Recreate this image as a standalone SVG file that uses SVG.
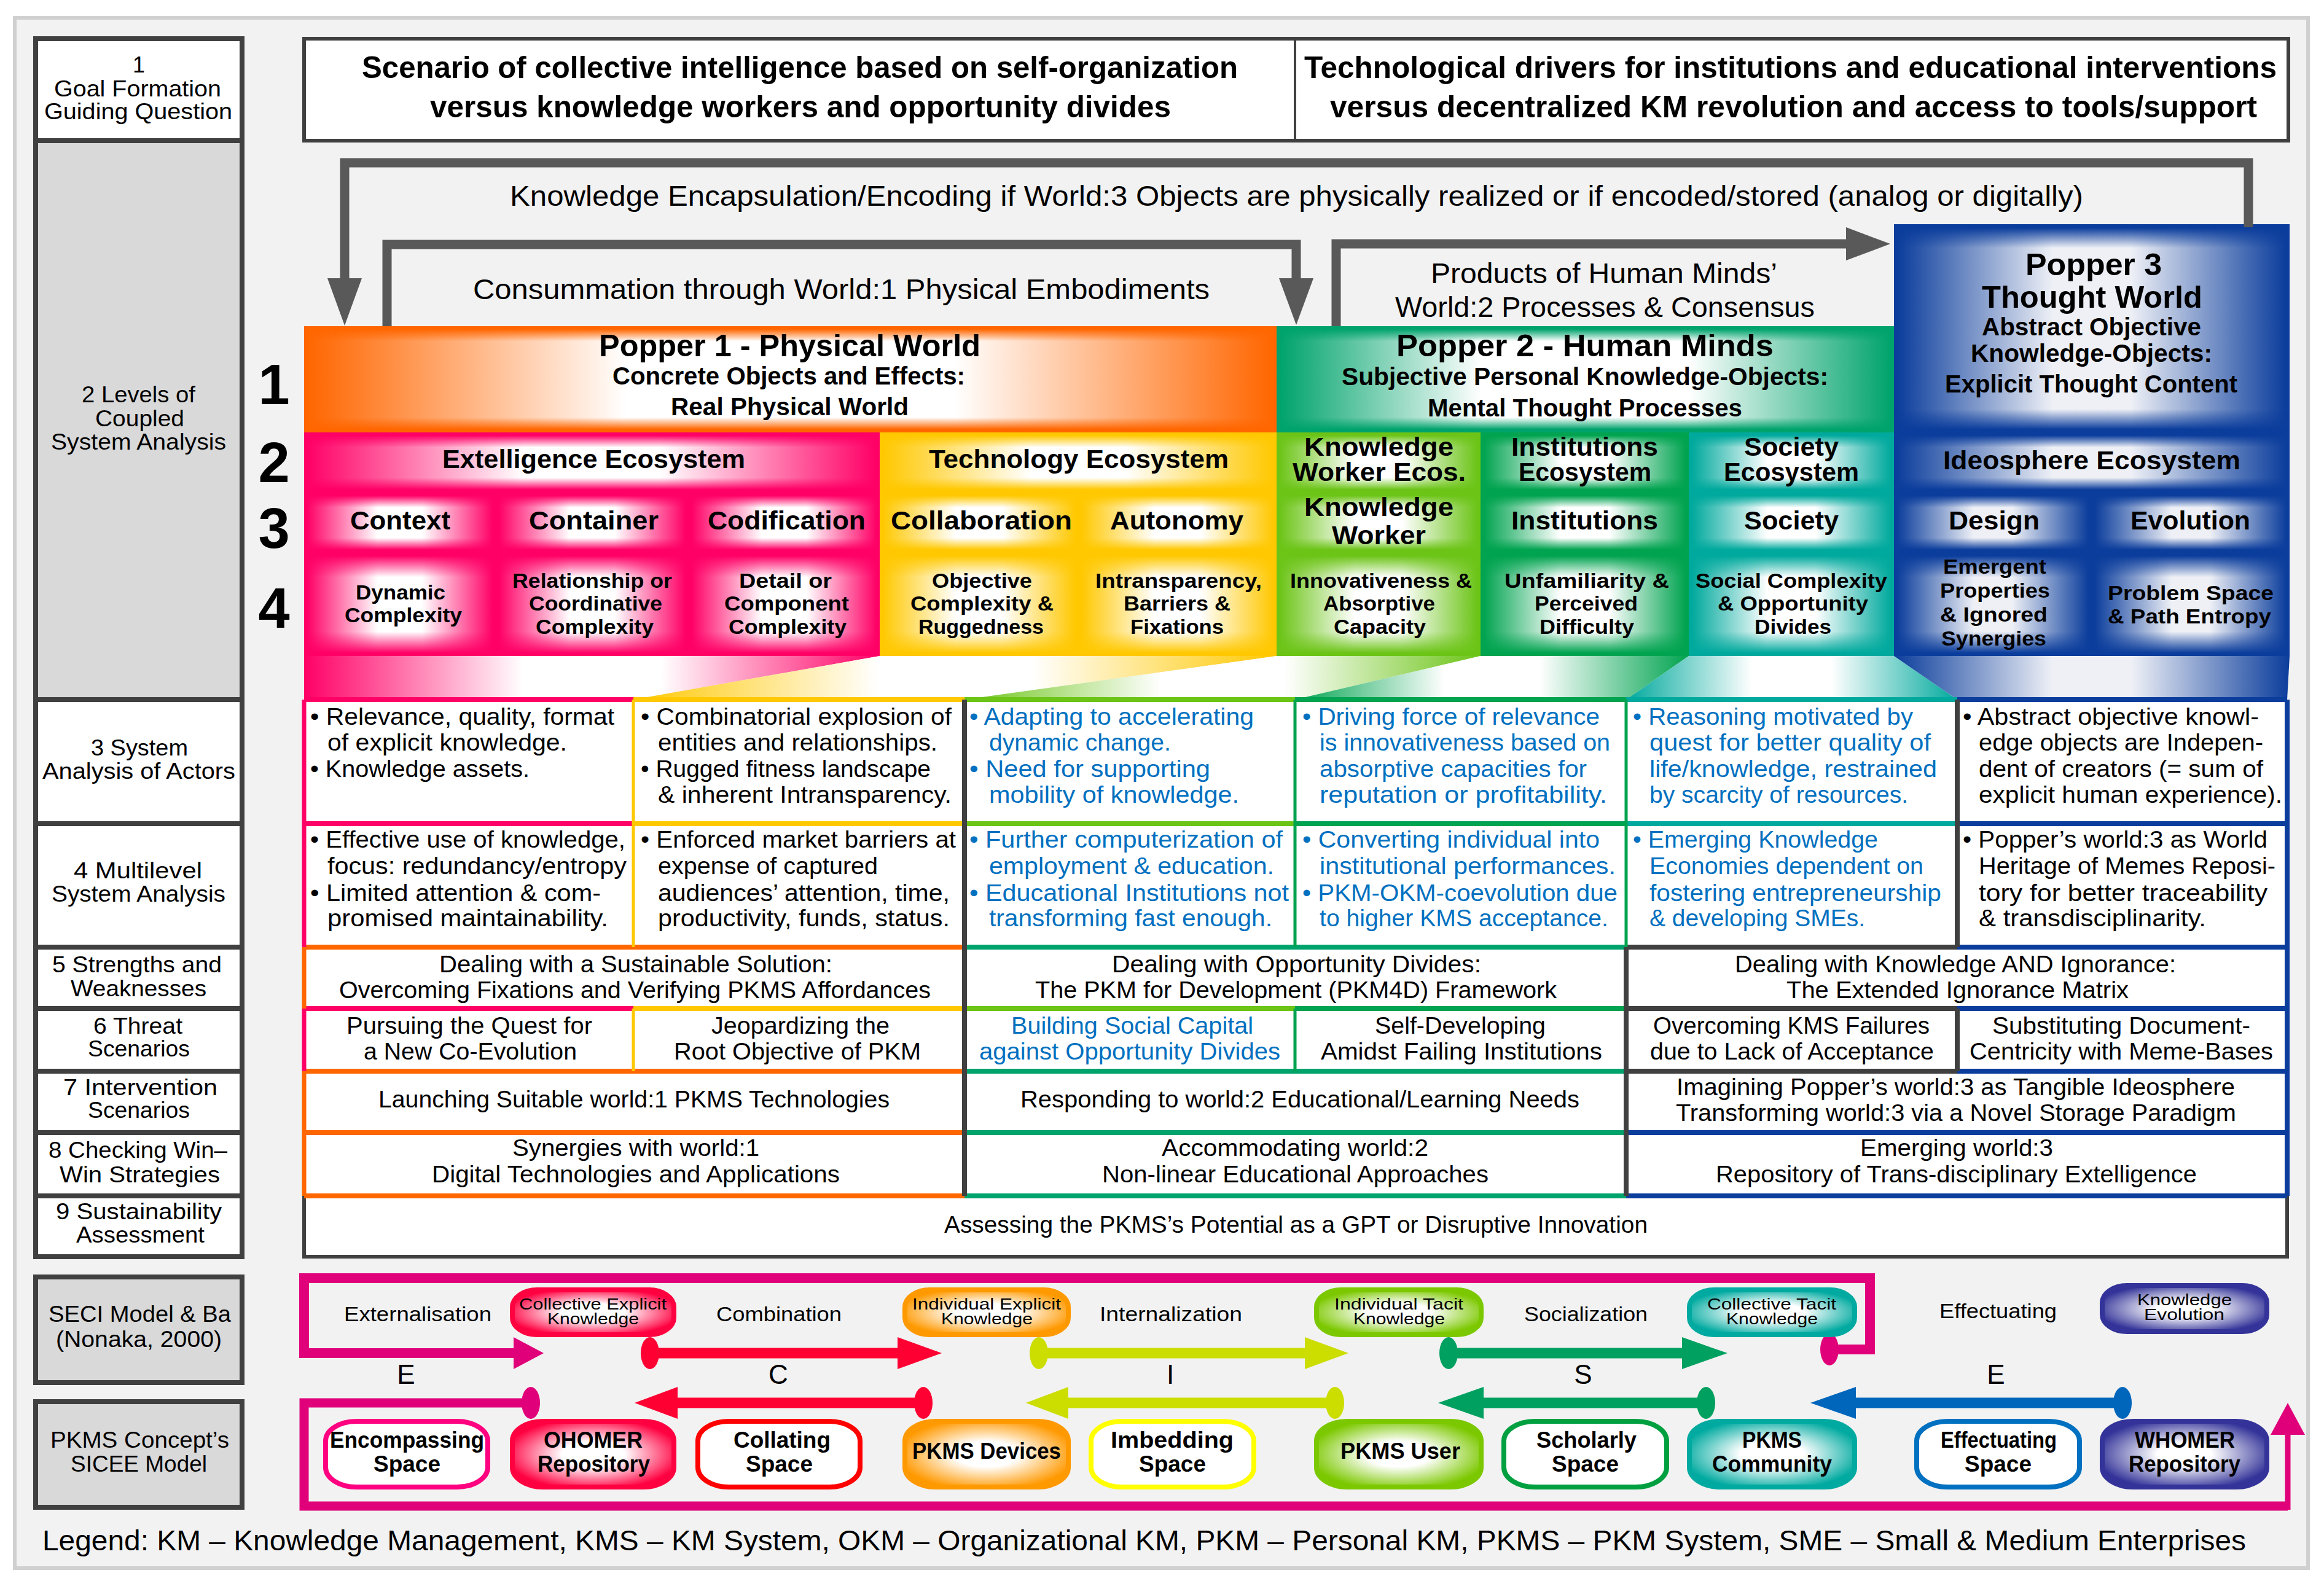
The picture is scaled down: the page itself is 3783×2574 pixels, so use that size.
<svg xmlns="http://www.w3.org/2000/svg" width="3783" height="2574" viewBox="0 0 3783 2574">
<defs>
<style>
text{font-family:"Liberation Sans",Arial,sans-serif;fill:#000}
.hd{font-size:50px;font-weight:bold}
.ar{font-size:46px}
.p1{font-size:50px;font-weight:bold}
.p2{font-size:40px;font-weight:bold}
.r2{font-size:42px;font-weight:bold}
.r4{font-size:34px;font-weight:bold}
.num{font-size:92px;font-weight:bold;text-anchor:middle}
.lc{font-size:36px}
.tb{font-size:38px}
.bl{fill:#0070c0}
.sl{font-size:34px}
.pt{font-size:26px}
.pb{font-size:36px;font-weight:bold}
.lt{font-size:44px;text-anchor:middle}
.lg{font-size:46px}
.garrow{fill:none;stroke:#595959;stroke-width:15}
.lcell{stroke:#404040;stroke-width:8;fill:#fff}
.gcell{stroke:#404040;stroke-width:8;fill:#d9d9d9}
.bd{stroke-width:8;fill:none}
.bt{stroke-width:5;fill:none}
</style>
<linearGradient id="h-or" x1="0" x2="1" y1="0" y2="0"><stop offset="0" stop-color="#ff6600"/><stop offset="0.33" stop-color="#fff"/><stop offset="0.67" stop-color="#fff"/><stop offset="1" stop-color="#ff6600"/></linearGradient>
<linearGradient id="vp-or" x1="0" x2="0" y1="0" y2="1"><stop offset="0" stop-color="#ff6600"/><stop offset="0.12" stop-color="#ff6600" stop-opacity="0"/><stop offset="0.88" stop-color="#ff6600" stop-opacity="0"/><stop offset="1" stop-color="#ff6600"/></linearGradient>
<linearGradient id="h-p2" x1="0" x2="1" y1="0" y2="0"><stop offset="0" stop-color="#00a36c"/><stop offset="0.33" stop-color="#fff"/><stop offset="0.67" stop-color="#fff"/><stop offset="1" stop-color="#00a36c"/></linearGradient>
<linearGradient id="vp-p2" x1="0" x2="0" y1="0" y2="1"><stop offset="0" stop-color="#00a36c"/><stop offset="0.12" stop-color="#00a36c" stop-opacity="0"/><stop offset="0.88" stop-color="#00a36c" stop-opacity="0"/><stop offset="1" stop-color="#00a36c"/></linearGradient>
<linearGradient id="h-bl" x1="0" x2="1" y1="0" y2="0"><stop offset="0" stop-color="#0b3d9c"/><stop offset="0.4" stop-color="#eef0f6"/><stop offset="0.6" stop-color="#eef0f6"/><stop offset="1" stop-color="#0b3d9c"/></linearGradient>
<linearGradient id="vp-bl" x1="0" x2="0" y1="0" y2="1"><stop offset="0" stop-color="#0b3d9c"/><stop offset="0.1" stop-color="#0b3d9c" stop-opacity="0"/><stop offset="0.9" stop-color="#0b3d9c" stop-opacity="0"/><stop offset="1" stop-color="#0b3d9c"/></linearGradient>
<linearGradient id="v-bl" x1="0" x2="0" y1="0" y2="1"><stop offset="0" stop-color="#0b3d9c"/><stop offset="0.22" stop-color="#0b3d9c" stop-opacity="0"/><stop offset="0.78" stop-color="#0b3d9c" stop-opacity="0"/><stop offset="1" stop-color="#0b3d9c"/></linearGradient>
<linearGradient id="h-pk" x1="0" x2="1" y1="0" y2="0"><stop offset="0" stop-color="#ff0066"/><stop offset="0.38" stop-color="#fff"/><stop offset="0.62" stop-color="#fff"/><stop offset="1" stop-color="#ff0066"/></linearGradient>
<linearGradient id="v-pk" x1="0" x2="0" y1="0" y2="1"><stop offset="0" stop-color="#ff0066"/><stop offset="0.22" stop-color="#ff0066" stop-opacity="0"/><stop offset="0.78" stop-color="#ff0066" stop-opacity="0"/><stop offset="1" stop-color="#ff0066"/></linearGradient>
<linearGradient id="h-ye" x1="0" x2="1" y1="0" y2="0"><stop offset="0" stop-color="#ffc800"/><stop offset="0.38" stop-color="#fff"/><stop offset="0.62" stop-color="#fff"/><stop offset="1" stop-color="#ffc800"/></linearGradient>
<linearGradient id="v-ye" x1="0" x2="0" y1="0" y2="1"><stop offset="0" stop-color="#ffc800"/><stop offset="0.22" stop-color="#ffc800" stop-opacity="0"/><stop offset="0.78" stop-color="#ffc800" stop-opacity="0"/><stop offset="1" stop-color="#ffc800"/></linearGradient>
<linearGradient id="h-yg" x1="0" x2="1" y1="0" y2="0"><stop offset="0" stop-color="#6cc417"/><stop offset="0.38" stop-color="#fff"/><stop offset="0.62" stop-color="#fff"/><stop offset="1" stop-color="#6cc417"/></linearGradient>
<linearGradient id="v-yg" x1="0" x2="0" y1="0" y2="1"><stop offset="0" stop-color="#6cc417"/><stop offset="0.22" stop-color="#6cc417" stop-opacity="0"/><stop offset="0.78" stop-color="#6cc417" stop-opacity="0"/><stop offset="1" stop-color="#6cc417"/></linearGradient>
<linearGradient id="h-gn" x1="0" x2="1" y1="0" y2="0"><stop offset="0" stop-color="#00a34f"/><stop offset="0.38" stop-color="#fff"/><stop offset="0.62" stop-color="#fff"/><stop offset="1" stop-color="#00a34f"/></linearGradient>
<linearGradient id="v-gn" x1="0" x2="0" y1="0" y2="1"><stop offset="0" stop-color="#00a34f"/><stop offset="0.22" stop-color="#00a34f" stop-opacity="0"/><stop offset="0.78" stop-color="#00a34f" stop-opacity="0"/><stop offset="1" stop-color="#00a34f"/></linearGradient>
<linearGradient id="h-tl" x1="0" x2="1" y1="0" y2="0"><stop offset="0" stop-color="#00a99d"/><stop offset="0.38" stop-color="#fff"/><stop offset="0.62" stop-color="#fff"/><stop offset="1" stop-color="#00a99d"/></linearGradient>
<linearGradient id="v-tl" x1="0" x2="0" y1="0" y2="1"><stop offset="0" stop-color="#00a99d"/><stop offset="0.22" stop-color="#00a99d" stop-opacity="0"/><stop offset="0.78" stop-color="#00a99d" stop-opacity="0"/><stop offset="1" stop-color="#00a99d"/></linearGradient>
<radialGradient id="rg-rd" cx="0.5" cy="0.5" r="0.55"><stop offset="0" stop-color="#fff"/><stop offset="0.35" stop-color="#fff"/><stop offset="1" stop-color="#ff0040"/></radialGradient>
<radialGradient id="rg-or" cx="0.5" cy="0.5" r="0.55"><stop offset="0" stop-color="#fff"/><stop offset="0.35" stop-color="#fff"/><stop offset="1" stop-color="#ff9900"/></radialGradient>
<radialGradient id="rg-yg" cx="0.5" cy="0.5" r="0.55"><stop offset="0" stop-color="#fff"/><stop offset="0.35" stop-color="#fff"/><stop offset="1" stop-color="#7cc800"/></radialGradient>
<radialGradient id="rg-tl" cx="0.5" cy="0.5" r="0.55"><stop offset="0" stop-color="#fff"/><stop offset="0.35" stop-color="#fff"/><stop offset="1" stop-color="#00aaa0"/></radialGradient>
<radialGradient id="rg-in" cx="0.5" cy="0.5" r="0.55"><stop offset="0" stop-color="#fff"/><stop offset="0.3" stop-color="#fff"/><stop offset="1" stop-color="#333399"/></radialGradient>
</defs>

<rect x="0" y="0" width="3783" height="2574" fill="#fff"/>
<rect x="24" y="29" width="3733" height="2524" fill="#f2f2f2" stroke="#d0d0d0" stroke-width="6"/>

<!-- Left column -->
<g id="left-column">
<rect class="lcell" x="58" y="63" width="336" height="166"/>
<text class="lc" x="216" y="118" textLength="20" lengthAdjust="spacingAndGlyphs">1</text>
<text class="lc" x="88" y="157" textLength="272" lengthAdjust="spacingAndGlyphs">Goal Formation</text>
<text class="lc" x="72" y="194" textLength="306" lengthAdjust="spacingAndGlyphs">Guiding Question</text>
<rect class="gcell" x="58" y="229" width="336" height="910"/>
<text class="lc" x="133" y="655" textLength="185" lengthAdjust="spacingAndGlyphs">2 Levels of</text>
<text class="lc" x="155" y="694" textLength="145" lengthAdjust="spacingAndGlyphs">Coupled</text>
<text class="lc" x="83" y="732" textLength="285" lengthAdjust="spacingAndGlyphs">System Analysis</text>
<rect class="lcell" x="58" y="1139" width="336" height="202"/>
<text class="lc" x="148" y="1230" textLength="158" lengthAdjust="spacingAndGlyphs">3 System</text>
<text class="lc" x="69" y="1268" textLength="314" lengthAdjust="spacingAndGlyphs">Analysis of Actors</text>
<rect class="lcell" x="58" y="1341" width="336" height="201"/>
<text class="lc" x="120" y="1430" textLength="209" lengthAdjust="spacingAndGlyphs">4 Multilevel</text>
<text class="lc" x="84" y="1468" textLength="283" lengthAdjust="spacingAndGlyphs">System Analysis</text>
<rect class="lcell" x="58" y="1542" width="336" height="100"/>
<text class="lc" x="85" y="1583" textLength="276" lengthAdjust="spacingAndGlyphs">5 Strengths and</text>
<text class="lc" x="115" y="1622" textLength="221" lengthAdjust="spacingAndGlyphs">Weaknesses</text>
<rect class="lcell" x="58" y="1642" width="336" height="102"/>
<text class="lc" x="152" y="1683" textLength="145" lengthAdjust="spacingAndGlyphs">6 Threat</text>
<text class="lc" x="143" y="1720" textLength="166" lengthAdjust="spacingAndGlyphs">Scenarios</text>
<rect class="lcell" x="58" y="1744" width="336" height="100"/>
<text class="lc" x="103" y="1783" textLength="251" lengthAdjust="spacingAndGlyphs">7 Intervention</text>
<text class="lc" x="143" y="1820" textLength="166" lengthAdjust="spacingAndGlyphs">Scenarios</text>
<rect class="lcell" x="58" y="1844" width="336" height="103"/>
<text class="lc" x="79" y="1885" textLength="291" lengthAdjust="spacingAndGlyphs">8 Checking Win–</text>
<text class="lc" x="97" y="1925" textLength="261" lengthAdjust="spacingAndGlyphs">Win Strategies</text>
<rect class="lcell" x="58" y="1947" width="336" height="99"/>
<text class="lc" x="91" y="1985" textLength="270" lengthAdjust="spacingAndGlyphs">9 Sustainability</text>
<text class="lc" x="124" y="2023" textLength="209" lengthAdjust="spacingAndGlyphs">Assessment</text>
</g>
<g id="seci-label">
<rect class="gcell" x="58" y="2079" width="336" height="172"/>
<text class="lc" x="79" y="2152" textLength="297" lengthAdjust="spacingAndGlyphs">SECI Model &amp; Ba</text>
<text class="lc" x="91" y="2193" textLength="270" lengthAdjust="spacingAndGlyphs">(Nonaka, 2000)</text>
</g>
<g id="sicee-label">
<rect class="gcell" x="58" y="2282" width="336" height="172"/>
<text class="lc" x="82" y="2357" textLength="291" lengthAdjust="spacingAndGlyphs">PKMS Concept’s</text>
<text class="lc" x="115" y="2396" textLength="222" lengthAdjust="spacingAndGlyphs">SICEE Model</text>
</g>

<!-- Header -->
<g id="header">
<rect x="495" y="63" width="3230" height="166" fill="#fff" stroke="#404040" stroke-width="6"/>
<line x1="2108" y1="63" x2="2108" y2="229" stroke="#404040" stroke-width="4"/>
<text class="hd" x="589" y="127" textLength="1426" lengthAdjust="spacingAndGlyphs">Scenario of collective intelligence based on self-organization</text>
<text class="hd" x="700" y="191" textLength="1206" lengthAdjust="spacingAndGlyphs">versus knowledge workers and opportunity divides</text>
<text class="hd" x="2123" y="127" textLength="1583" lengthAdjust="spacingAndGlyphs">Technological drivers for institutions and educational interventions</text>
<text class="hd" x="2165" y="191" textLength="1509" lengthAdjust="spacingAndGlyphs">versus decentralized KM revolution and access to tools/support</text>
</g>

<!-- Popper blocks -->
<g id="popper1">
<rect x="495" y="531" width="1583" height="173" fill="#ff6600"/>
<rect x="500" y="536" width="1573" height="163" fill="url(#h-or)"/>
<rect x="500" y="536" width="1573" height="163" fill="url(#vp-or)"/>
<text class="p1" x="975" y="580" textLength="621" lengthAdjust="spacingAndGlyphs">Popper 1 - Physical World</text>
<text class="p2" x="997" y="626" textLength="574" lengthAdjust="spacingAndGlyphs">Concrete Objects and Effects:</text>
<text class="p2" x="1092" y="676" textLength="387" lengthAdjust="spacingAndGlyphs">Real Physical World</text>
</g>
<g id="popper2">
<rect x="2078" y="531" width="1005" height="173" fill="#00a36c"/>
<rect x="2083" y="536" width="995" height="163" fill="url(#h-p2)"/>
<rect x="2083" y="536" width="995" height="163" fill="url(#vp-p2)"/>
<text class="p1" x="2273" y="580" textLength="614" lengthAdjust="spacingAndGlyphs">Popper 2 - Human Minds</text>
<text class="p2" x="2184" y="627" textLength="792" lengthAdjust="spacingAndGlyphs">Subjective Personal Knowledge-Objects:</text>
<text class="p2" x="2324" y="678" textLength="512" lengthAdjust="spacingAndGlyphs">Mental Thought Processes</text>
</g>
<g id="popper3">
<rect x="3083" y="365" width="644" height="703" fill="#0b3d9c"/>
<rect x="3089" y="371" width="632" height="328" fill="url(#h-bl)"/>
<rect x="3089" y="371" width="632" height="328" fill="url(#vp-bl)"/>
<text class="p1" x="3297" y="448" textLength="222" lengthAdjust="spacingAndGlyphs">Popper 3</text>
<text class="p1" x="3226" y="501" textLength="359" lengthAdjust="spacingAndGlyphs">Thought World</text>
<text class="p2" x="3226" y="546" textLength="357" lengthAdjust="spacingAndGlyphs">Abstract Objective</text>
<text class="p2" x="3208" y="589" textLength="393" lengthAdjust="spacingAndGlyphs">Knowledge-Objects:</text>
<text class="p2" x="3166" y="639" textLength="476" lengthAdjust="spacingAndGlyphs">Explicit Thought Content</text>
</g>

<!-- Level rows 2-4 -->
<g id="extelligence">
<rect x="495" y="704" width="937" height="364" fill="#ff0066"/>
<rect x="500" y="709" width="927" height="88" fill="url(#h-pk)"/><rect x="500" y="709" width="927" height="88" fill="url(#v-pk)"/>
<rect x="500" y="807" width="302" height="88" fill="url(#h-pk)"/><rect x="500" y="807" width="302" height="88" fill="url(#v-pk)"/>
<rect x="812" y="807" width="304" height="88" fill="url(#h-pk)"/><rect x="812" y="807" width="304" height="88" fill="url(#v-pk)"/>
<rect x="1126" y="807" width="301" height="88" fill="url(#h-pk)"/><rect x="1126" y="807" width="301" height="88" fill="url(#v-pk)"/>
<rect x="500" y="905" width="302" height="158" fill="url(#h-pk)"/><rect x="500" y="905" width="302" height="158" fill="url(#v-pk)"/>
<rect x="812" y="905" width="304" height="158" fill="url(#h-pk)"/><rect x="812" y="905" width="304" height="158" fill="url(#v-pk)"/>
<rect x="1126" y="905" width="301" height="158" fill="url(#h-pk)"/><rect x="1126" y="905" width="301" height="158" fill="url(#v-pk)"/>
<text class="r2" x="720" y="762" textLength="493" lengthAdjust="spacingAndGlyphs">Extelligence Ecosystem</text>
<text class="r2" x="570" y="862" textLength="163" lengthAdjust="spacingAndGlyphs">Context</text>
<text class="r2" x="861" y="862" textLength="211" lengthAdjust="spacingAndGlyphs">Container</text>
<text class="r2" x="1152" y="862" textLength="257" lengthAdjust="spacingAndGlyphs">Codification</text>
<text class="r4" x="579" y="976" textLength="146" lengthAdjust="spacingAndGlyphs">Dynamic</text>
<text class="r4" x="561" y="1013" textLength="191" lengthAdjust="spacingAndGlyphs">Complexity</text>
<text class="r4" x="834" y="957" textLength="260" lengthAdjust="spacingAndGlyphs">Relationship or</text>
<text class="r4" x="861" y="994" textLength="217" lengthAdjust="spacingAndGlyphs">Coordinative</text>
<text class="r4" x="872" y="1032" textLength="192" lengthAdjust="spacingAndGlyphs">Complexity</text>
<text class="r4" x="1203" y="957" textLength="151" lengthAdjust="spacingAndGlyphs">Detail or</text>
<text class="r4" x="1179" y="994" textLength="203" lengthAdjust="spacingAndGlyphs">Component</text>
<text class="r4" x="1186" y="1032" textLength="192" lengthAdjust="spacingAndGlyphs">Complexity</text>
</g>
<g id="technology">
<rect x="1432" y="704" width="646" height="364" fill="#ffc800"/>
<rect x="1437" y="709" width="636" height="88" fill="url(#h-ye)"/><rect x="1437" y="709" width="636" height="88" fill="url(#v-ye)"/>
<rect x="1437" y="807" width="314" height="88" fill="url(#h-ye)"/><rect x="1437" y="807" width="314" height="88" fill="url(#v-ye)"/>
<rect x="1761" y="807" width="312" height="88" fill="url(#h-ye)"/><rect x="1761" y="807" width="312" height="88" fill="url(#v-ye)"/>
<rect x="1437" y="905" width="314" height="158" fill="url(#h-ye)"/><rect x="1437" y="905" width="314" height="158" fill="url(#v-ye)"/>
<rect x="1761" y="905" width="312" height="158" fill="url(#h-ye)"/><rect x="1761" y="905" width="312" height="158" fill="url(#v-ye)"/>
<text class="r2" x="1512" y="762" textLength="488" lengthAdjust="spacingAndGlyphs">Technology Ecosystem</text>
<text class="r2" x="1450" y="862" textLength="295" lengthAdjust="spacingAndGlyphs">Collaboration</text>
<text class="r2" x="1807" y="862" textLength="217" lengthAdjust="spacingAndGlyphs">Autonomy</text>
<text class="r4" x="1517" y="957" textLength="163" lengthAdjust="spacingAndGlyphs">Objective</text>
<text class="r4" x="1482" y="994" textLength="233" lengthAdjust="spacingAndGlyphs">Complexity &amp;</text>
<text class="r4" x="1495" y="1032" textLength="204" lengthAdjust="spacingAndGlyphs">Ruggedness</text>
<text class="r4" x="1783" y="957" textLength="271" lengthAdjust="spacingAndGlyphs">Intransparency,</text>
<text class="r4" x="1829" y="994" textLength="174" lengthAdjust="spacingAndGlyphs">Barriers &amp;</text>
<text class="r4" x="1840" y="1032" textLength="152" lengthAdjust="spacingAndGlyphs">Fixations</text>
</g>
<g id="knowledge-worker">
<rect x="2078" y="704" width="332" height="364" fill="#6cc417"/>
<rect x="2083" y="709" width="322" height="88" fill="url(#h-yg)"/><rect x="2083" y="709" width="322" height="88" fill="url(#v-yg)"/>
<rect x="2083" y="807" width="322" height="88" fill="url(#h-yg)"/><rect x="2083" y="807" width="322" height="88" fill="url(#v-yg)"/>
<rect x="2083" y="905" width="322" height="158" fill="url(#h-yg)"/><rect x="2083" y="905" width="322" height="158" fill="url(#v-yg)"/>
<text class="r2" x="2123" y="742" textLength="243" lengthAdjust="spacingAndGlyphs">Knowledge</text>
<text class="r2" x="2104" y="783" textLength="282" lengthAdjust="spacingAndGlyphs">Worker Ecos.</text>
<text class="r2" x="2123" y="840" textLength="243" lengthAdjust="spacingAndGlyphs">Knowledge</text>
<text class="r2" x="2168" y="886" textLength="153" lengthAdjust="spacingAndGlyphs">Worker</text>
<text class="r4" x="2100" y="957" textLength="296" lengthAdjust="spacingAndGlyphs">Innovativeness &amp;</text>
<text class="r4" x="2154" y="994" textLength="182" lengthAdjust="spacingAndGlyphs">Absorptive</text>
<text class="r4" x="2171" y="1032" textLength="150" lengthAdjust="spacingAndGlyphs">Capacity</text>
</g>
<g id="institutions">
<rect x="2410" y="704" width="339" height="364" fill="#00a34f"/>
<rect x="2415" y="709" width="329" height="88" fill="url(#h-gn)"/><rect x="2415" y="709" width="329" height="88" fill="url(#v-gn)"/>
<rect x="2415" y="807" width="329" height="88" fill="url(#h-gn)"/><rect x="2415" y="807" width="329" height="88" fill="url(#v-gn)"/>
<rect x="2415" y="905" width="329" height="158" fill="url(#h-gn)"/><rect x="2415" y="905" width="329" height="158" fill="url(#v-gn)"/>
<text class="r2" x="2460" y="742" textLength="239" lengthAdjust="spacingAndGlyphs">Institutions</text>
<text class="r2" x="2472" y="783" textLength="216" lengthAdjust="spacingAndGlyphs">Ecosystem</text>
<text class="r2" x="2460" y="862" textLength="239" lengthAdjust="spacingAndGlyphs">Institutions</text>
<text class="r4" x="2449" y="957" textLength="268" lengthAdjust="spacingAndGlyphs">Unfamiliarity &amp;</text>
<text class="r4" x="2498" y="994" textLength="168" lengthAdjust="spacingAndGlyphs">Perceived</text>
<text class="r4" x="2506" y="1032" textLength="154" lengthAdjust="spacingAndGlyphs">Difficulty</text>
</g>
<g id="society">
<rect x="2749" y="704" width="334" height="364" fill="#00a99d"/>
<rect x="2754" y="709" width="324" height="88" fill="url(#h-tl)"/><rect x="2754" y="709" width="324" height="88" fill="url(#v-tl)"/>
<rect x="2754" y="807" width="324" height="88" fill="url(#h-tl)"/><rect x="2754" y="807" width="324" height="88" fill="url(#v-tl)"/>
<rect x="2754" y="905" width="324" height="158" fill="url(#h-tl)"/><rect x="2754" y="905" width="324" height="158" fill="url(#v-tl)"/>
<text class="r2" x="2839" y="742" textLength="154" lengthAdjust="spacingAndGlyphs">Society</text>
<text class="r2" x="2806" y="783" textLength="220" lengthAdjust="spacingAndGlyphs">Ecosystem</text>
<text class="r2" x="2839" y="862" textLength="154" lengthAdjust="spacingAndGlyphs">Society</text>
<text class="r4" x="2760" y="957" textLength="312" lengthAdjust="spacingAndGlyphs">Social Complexity</text>
<text class="r4" x="2796" y="994" textLength="245" lengthAdjust="spacingAndGlyphs">&amp; Opportunity</text>
<text class="r4" x="2856" y="1032" textLength="125" lengthAdjust="spacingAndGlyphs">Divides</text>
</g>
<g id="ideosphere">
<rect x="3088" y="709" width="634" height="88" fill="url(#h-bl)"/><rect x="3088" y="709" width="634" height="88" fill="url(#v-bl)"/>
<rect x="3088" y="807" width="312" height="88" fill="url(#h-bl)"/><rect x="3088" y="807" width="312" height="88" fill="url(#v-bl)"/>
<rect x="3410" y="807" width="312" height="88" fill="url(#h-bl)"/><rect x="3410" y="807" width="312" height="88" fill="url(#v-bl)"/>
<rect x="3088" y="905" width="312" height="158" fill="url(#h-bl)"/><rect x="3088" y="905" width="312" height="158" fill="url(#v-bl)"/>
<rect x="3410" y="905" width="312" height="158" fill="url(#h-bl)"/><rect x="3410" y="905" width="312" height="158" fill="url(#v-bl)"/>
<text class="r2" x="3163" y="764" textLength="484" lengthAdjust="spacingAndGlyphs">Ideosphere Ecosystem</text>
<text class="r2" x="3172" y="862" textLength="148" lengthAdjust="spacingAndGlyphs">Design</text>
<text class="r2" x="3468" y="862" textLength="195" lengthAdjust="spacingAndGlyphs">Evolution</text>
<text class="r4" x="3163" y="934" textLength="168" lengthAdjust="spacingAndGlyphs">Emergent</text>
<text class="r4" x="3158" y="973" textLength="179" lengthAdjust="spacingAndGlyphs">Properties</text>
<text class="r4" x="3158" y="1012" textLength="175" lengthAdjust="spacingAndGlyphs">&amp; Ignored</text>
<text class="r4" x="3160" y="1051" textLength="171" lengthAdjust="spacingAndGlyphs">Synergies</text>
<text class="r4" x="3431" y="977" textLength="270" lengthAdjust="spacingAndGlyphs">Problem Space</text>
<text class="r4" x="3431" y="1015" textLength="266" lengthAdjust="spacingAndGlyphs">&amp; Path Entropy</text>
</g>
<g id="level-numbers">
<text class="num" x="446" y="658">1</text>
<text class="num" x="446" y="785">2</text>
<text class="num" x="446" y="892">3</text>
<text class="num" x="446" y="1022">4</text>
</g>

<!-- Transition trapezoids -->
<g id="transitions">
<polygon points="495,1068 1432,1068 1031,1139 495,1139" fill="url(#h-pk)"/>
<polygon points="1432,1068 2078,1068 1570,1139 1031,1139" fill="url(#h-ye)"/>
<polygon points="2078,1068 2410,1068 2108,1139 1570,1139" fill="url(#h-yg)"/>
<polygon points="2410,1068 2749,1068 2647,1139 2108,1139" fill="url(#h-gn)"/>
<polygon points="2749,1068 3083,1068 3186,1139 2647,1139" fill="url(#h-tl)"/>
<polygon points="3083,1068 3727,1068 3723,1139 3186,1139" fill="url(#h-bl)"/>
</g>

<!-- Lower table -->
<g id="analysis-table">
<rect x="495" y="1139" width="3228" height="907" fill="#fff"/>
<rect x="495" y="1947" width="3228" height="99" fill="#fff" stroke="#404040" stroke-width="6"/>
<g class="bd">
<path d="M495 1139H1031M495 1341H1031M495 1642H1031" stroke="#ff0066"/>
<path d="M1031 1139H1570M1031 1341H1570M1031 1642H1570" stroke="#ffc800"/>
<path d="M1570 1139H2108M1570 1341H2108M1570 1642H2108" stroke="#6cc417"/>
<path d="M2108 1139H2647M2108 1341H2647M2108 1642H2647" stroke="#00a34f"/>
<path d="M2647 1139H3186M2647 1341H3186" stroke="#00a99d"/>
<path d="M3186 1139H3723M3186 1341H3723M3186 1542H3723M3186 1642H3723M3186 1744H3723M2647 1844H3723M2647 1947H3723M3723 1139V1947" stroke="#0b3d9c"/>
<path d="M495 1542H1570M495 1744H1570M495 1844H1570M495 1947H1570" stroke="#ff6600"/>
<path d="M1570 1542H2647M1570 1744H2647M1570 1844H2647M1570 1947H2647" stroke="#00a36c"/>
<path d="M2647 1542H3186M2647 1642H3186M2647 1744H3186M1570 1139V1947M2647 1542V1947M3186 1139V1542M3186 1642V1744" stroke="#404040"/>
</g>
<g class="bt">
<path d="M495 1139V1542M495 1642V1744" stroke="#ff0066" stroke-width="7"/>
<path d="M495 1542V1642M495 1744V1947" stroke="#ff6600" stroke-width="7"/>
<path d="M1031 1139V1542M1031 1642V1744" stroke="#ffc800"/>
<path d="M2108 1139V1542M2108 1642V1744M2647 1139V1542" stroke="#00a34f"/>
</g>
<!-- row 3 -->
<text class="tb" x="505" y="1180" textLength="495" lengthAdjust="spacingAndGlyphs">• Relevance, quality, format</text>
<text class="tb" x="533" y="1222" textLength="390" lengthAdjust="spacingAndGlyphs">of explicit knowledge.</text>
<text class="tb" x="505" y="1265" textLength="357" lengthAdjust="spacingAndGlyphs">• Knowledge assets.</text>
<text class="tb" x="1043" y="1180" textLength="506" lengthAdjust="spacingAndGlyphs">• Combinatorial explosion of</text>
<text class="tb" x="1071" y="1222" textLength="455" lengthAdjust="spacingAndGlyphs">entities and relationships.</text>
<text class="tb" x="1043" y="1265" textLength="472" lengthAdjust="spacingAndGlyphs">• Rugged fitness landscape</text>
<text class="tb" x="1071" y="1307" textLength="478" lengthAdjust="spacingAndGlyphs">&amp; inherent Intransparency.</text>
<text class="tb bl" x="1578" y="1180" textLength="463" lengthAdjust="spacingAndGlyphs">• Adapting to accelerating</text>
<text class="tb bl" x="1610" y="1222" textLength="296" lengthAdjust="spacingAndGlyphs">dynamic change.</text>
<text class="tb bl" x="1578" y="1265" textLength="392" lengthAdjust="spacingAndGlyphs">• Need for supporting</text>
<text class="tb bl" x="1610" y="1307" textLength="407" lengthAdjust="spacingAndGlyphs">mobility of knowledge.</text>
<text class="tb bl" x="2120" y="1180" textLength="484" lengthAdjust="spacingAndGlyphs">• Driving force of relevance</text>
<text class="tb bl" x="2148" y="1222" textLength="473" lengthAdjust="spacingAndGlyphs">is innovativeness based on</text>
<text class="tb bl" x="2148" y="1265" textLength="435" lengthAdjust="spacingAndGlyphs">absorptive capacities for</text>
<text class="tb bl" x="2148" y="1307" textLength="468" lengthAdjust="spacingAndGlyphs">reputation or profitability.</text>
<text class="tb bl" x="2658" y="1180" textLength="456" lengthAdjust="spacingAndGlyphs">• Reasoning motivated by</text>
<text class="tb bl" x="2685" y="1222" textLength="458" lengthAdjust="spacingAndGlyphs">quest for better quality of</text>
<text class="tb bl" x="2685" y="1265" textLength="468" lengthAdjust="spacingAndGlyphs">life/knowledge, restrained</text>
<text class="tb bl" x="2685" y="1307" textLength="421" lengthAdjust="spacingAndGlyphs">by scarcity of resources.</text>
<text class="tb" x="3195" y="1180" textLength="482" lengthAdjust="spacingAndGlyphs">• Abstract objective knowl-</text>
<text class="tb" x="3221" y="1222" textLength="463" lengthAdjust="spacingAndGlyphs">edge objects are Indepen-</text>
<text class="tb" x="3221" y="1265" textLength="463" lengthAdjust="spacingAndGlyphs">dent of creators (= sum of</text>
<text class="tb" x="3221" y="1307" textLength="494" lengthAdjust="spacingAndGlyphs">explicit human experience).</text>
<!-- row 4 -->
<text class="tb" x="505" y="1380" textLength="513" lengthAdjust="spacingAndGlyphs">• Effective use of knowledge,</text>
<text class="tb" x="533" y="1423" textLength="487" lengthAdjust="spacingAndGlyphs">focus: redundancy/entropy</text>
<text class="tb" x="505" y="1467" textLength="473" lengthAdjust="spacingAndGlyphs">• Limited attention &amp; com-</text>
<text class="tb" x="533" y="1508" textLength="457" lengthAdjust="spacingAndGlyphs">promised maintainability.</text>
<text class="tb" x="1043" y="1380" textLength="513" lengthAdjust="spacingAndGlyphs">• Enforced market barriers at</text>
<text class="tb" x="1071" y="1423" textLength="358" lengthAdjust="spacingAndGlyphs">expense of captured</text>
<text class="tb" x="1071" y="1467" textLength="475" lengthAdjust="spacingAndGlyphs">audiences’ attention, time,</text>
<text class="tb" x="1071" y="1508" textLength="475" lengthAdjust="spacingAndGlyphs">productivity, funds, status.</text>
<text class="tb bl" x="1578" y="1380" textLength="510" lengthAdjust="spacingAndGlyphs">• Further computerization of</text>
<text class="tb bl" x="1610" y="1423" textLength="464" lengthAdjust="spacingAndGlyphs">employment &amp; education.</text>
<text class="tb bl" x="1578" y="1467" textLength="520" lengthAdjust="spacingAndGlyphs">• Educational Institutions not</text>
<text class="tb bl" x="1610" y="1508" textLength="461" lengthAdjust="spacingAndGlyphs">transforming fast enough.</text>
<text class="tb bl" x="2120" y="1380" textLength="484" lengthAdjust="spacingAndGlyphs">• Converting individual into</text>
<text class="tb bl" x="2148" y="1423" textLength="482" lengthAdjust="spacingAndGlyphs">institutional performances.</text>
<text class="tb bl" x="2120" y="1467" textLength="513" lengthAdjust="spacingAndGlyphs">• PKM-OKM-coevolution due</text>
<text class="tb bl" x="2148" y="1508" textLength="470" lengthAdjust="spacingAndGlyphs">to higher KMS acceptance.</text>
<text class="tb bl" x="2658" y="1380" textLength="399" lengthAdjust="spacingAndGlyphs">• Emerging Knowledge</text>
<text class="tb bl" x="2685" y="1423" textLength="446" lengthAdjust="spacingAndGlyphs">Economies dependent on</text>
<text class="tb bl" x="2685" y="1467" textLength="475" lengthAdjust="spacingAndGlyphs">fostering entrepreneurship</text>
<text class="tb bl" x="2685" y="1508" textLength="351" lengthAdjust="spacingAndGlyphs">&amp; developing SMEs.</text>
<text class="tb" x="3195" y="1380" textLength="496" lengthAdjust="spacingAndGlyphs">• Popper’s world:3 as World</text>
<text class="tb" x="3221" y="1423" textLength="483" lengthAdjust="spacingAndGlyphs">Heritage of Memes Reposi-</text>
<text class="tb" x="3221" y="1467" textLength="470" lengthAdjust="spacingAndGlyphs">tory for better traceability</text>
<text class="tb" x="3221" y="1508" textLength="370" lengthAdjust="spacingAndGlyphs">&amp; transdisciplinarity.</text>
<!-- row 5 -->
<text class="tb" x="715" y="1583" textLength="640" lengthAdjust="spacingAndGlyphs">Dealing with a Sustainable Solution:</text>
<text class="tb" x="552" y="1625" textLength="963" lengthAdjust="spacingAndGlyphs">Overcoming Fixations and Verifying PKMS Affordances</text>
<text class="tb" x="1810" y="1583" textLength="601" lengthAdjust="spacingAndGlyphs">Dealing with Opportunity Divides:</text>
<text class="tb" x="1685" y="1625" textLength="849" lengthAdjust="spacingAndGlyphs">The PKM for Development (PKM4D) Framework</text>
<text class="tb" x="2824" y="1583" textLength="718" lengthAdjust="spacingAndGlyphs">Dealing with Knowledge AND Ignorance:</text>
<text class="tb" x="2908" y="1625" textLength="557" lengthAdjust="spacingAndGlyphs">The Extended Ignorance Matrix</text>
<!-- row 6 -->
<text class="tb" x="564" y="1683" textLength="400" lengthAdjust="spacingAndGlyphs">Pursuing the Quest for</text>
<text class="tb" x="592" y="1725" textLength="347" lengthAdjust="spacingAndGlyphs">a New Co-Evolution</text>
<text class="tb" x="1158" y="1683" textLength="290" lengthAdjust="spacingAndGlyphs">Jeopardizing the</text>
<text class="tb" x="1097" y="1725" textLength="402" lengthAdjust="spacingAndGlyphs">Root Objective of PKM</text>
<text class="tb bl" x="1646" y="1683" textLength="394" lengthAdjust="spacingAndGlyphs">Building Social Capital</text>
<text class="tb bl" x="1594" y="1725" textLength="490" lengthAdjust="spacingAndGlyphs">against Opportunity Divides</text>
<text class="tb" x="2238" y="1683" textLength="278" lengthAdjust="spacingAndGlyphs">Self-Developing</text>
<text class="tb" x="2150" y="1725" textLength="458" lengthAdjust="spacingAndGlyphs">Amidst Failing Institutions</text>
<text class="tb" x="2691" y="1683" textLength="450" lengthAdjust="spacingAndGlyphs">Overcoming KMS Failures</text>
<text class="tb" x="2686" y="1725" textLength="462" lengthAdjust="spacingAndGlyphs">due to Lack of Acceptance</text>
<text class="tb" x="3243" y="1683" textLength="420" lengthAdjust="spacingAndGlyphs">Substituting Document-</text>
<text class="tb" x="3206" y="1725" textLength="494" lengthAdjust="spacingAndGlyphs">Centricity with Meme-Bases</text>
<!-- row 7 -->
<text class="tb" x="616" y="1803" textLength="832" lengthAdjust="spacingAndGlyphs">Launching Suitable world:1 PKMS Technologies</text>
<text class="tb" x="1661" y="1803" textLength="910" lengthAdjust="spacingAndGlyphs">Responding to world:2 Educational/Learning Needs</text>
<text class="tb" x="2729" y="1783" textLength="909" lengthAdjust="spacingAndGlyphs">Imagining Popper’s world:3 as Tangible Ideosphere</text>
<text class="tb" x="2728" y="1825" textLength="912" lengthAdjust="spacingAndGlyphs">Transforming world:3 via a Novel Storage Paradigm</text>
<!-- row 8 -->
<text class="tb" x="834" y="1882" textLength="402" lengthAdjust="spacingAndGlyphs">Synergies with world:1</text>
<text class="tb" x="703" y="1925" textLength="664" lengthAdjust="spacingAndGlyphs">Digital Technologies and Applications</text>
<text class="tb" x="1891" y="1882" textLength="434" lengthAdjust="spacingAndGlyphs">Accommodating world:2</text>
<text class="tb" x="1794" y="1925" textLength="629" lengthAdjust="spacingAndGlyphs">Non-linear Educational Approaches</text>
<text class="tb" x="3028" y="1882" textLength="314" lengthAdjust="spacingAndGlyphs">Emerging world:3</text>
<text class="tb" x="2793" y="1925" textLength="783" lengthAdjust="spacingAndGlyphs">Repository of Trans-disciplinary Extelligence</text>
<!-- row 9 -->
<text class="tb" x="1537" y="2007" textLength="1145" lengthAdjust="spacingAndGlyphs">Assessing the PKMS’s Potential as a GPT or Disruptive Innovation</text>
</g>

<!-- Connectors -->
<g id="connectors">
<path class="garrow" d="M3660 370V265H561V455"/>
<polygon points="533,453 589,453 561,530" fill="#595959"/>
<path class="garrow" d="M630 531V398H2110V455"/>
<polygon points="2082,453 2138,453 2110,529" fill="#595959"/>
<path class="garrow" d="M2175 531V397H3010"/>
<polygon points="3005,370 3077,397 3005,424" fill="#595959"/>
<text class="ar" x="830" y="335" textLength="2561" lengthAdjust="spacingAndGlyphs">Knowledge Encapsulation/Encoding if World:3 Objects are physically realized or if encoded/stored (analog or digitally)</text>
<text class="ar" x="770" y="487" textLength="1199" lengthAdjust="spacingAndGlyphs">Consummation through World:1 Physical Embodiments</text>
<text class="ar" x="2329" y="461" textLength="564" lengthAdjust="spacingAndGlyphs">Products of Human Minds’</text>
<text class="ar" x="2271" y="516" textLength="683" lengthAdjust="spacingAndGlyphs">World:2 Processes &amp; Consensus</text>

<!-- SECI loop and flow arrows -->
<path d="M840 2203H495V2081H3044V2197H2978" fill="none" stroke="#e0007a" stroke-width="16"/>
<polygon points="836,2177 885,2203 836,2229" fill="#e0007a"/>
<ellipse cx="2978" cy="2197" rx="15" ry="26" fill="#e0007a"/>
<line x1="1058" y1="2203" x2="1465" y2="2203" stroke="#ff0033" stroke-width="17"/>
<ellipse cx="1058" cy="2203" rx="15" ry="26" fill="#ff0033"/>
<polygon points="1461,2177 1533,2203 1461,2229" fill="#ff0033"/>
<line x1="1691" y1="2203" x2="2128" y2="2203" stroke="#ccdd00" stroke-width="17"/>
<ellipse cx="1691" cy="2203" rx="15" ry="26" fill="#ccdd00"/>
<polygon points="2124,2177 2195,2203 2124,2229" fill="#ccdd00"/>
<line x1="2358" y1="2203" x2="2742" y2="2203" stroke="#00a060" stroke-width="17"/>
<ellipse cx="2358" cy="2203" rx="15" ry="26" fill="#00a060"/>
<polygon points="2738,2177 2812,2203 2738,2229" fill="#00a060"/>

<path d="M864 2284H495V2452H3724" fill="none" stroke="#e0007a" stroke-width="15"/>
<line x1="3724" y1="2458" x2="3724" y2="2330" stroke="#e0007a" stroke-width="9"/>
<polygon points="3696,2336 3724,2284 3752,2336" fill="#e0007a"/>
<ellipse cx="864" cy="2284" rx="15" ry="26" fill="#e0007a"/>
<line x1="1100" y1="2284" x2="1503" y2="2284" stroke="#ff0033" stroke-width="17"/>
<polygon points="1103,2258 1033,2284 1103,2310" fill="#ff0033"/>
<ellipse cx="1503" cy="2284" rx="15" ry="26" fill="#ff0033"/>
<line x1="1736" y1="2284" x2="2173" y2="2284" stroke="#ccdd00" stroke-width="17"/>
<polygon points="1739,2258 1670,2284 1739,2310" fill="#ccdd00"/>
<ellipse cx="2173" cy="2284" rx="15" ry="26" fill="#ccdd00"/>
<line x1="2412" y1="2284" x2="2777" y2="2284" stroke="#00a060" stroke-width="17"/>
<polygon points="2415,2258 2341,2284 2415,2310" fill="#00a060"/>
<ellipse cx="2777" cy="2284" rx="15" ry="26" fill="#00a060"/>
<line x1="3018" y1="2284" x2="3455" y2="2284" stroke="#0066bb" stroke-width="17"/>
<polygon points="3021,2258 2947,2284 3021,2310" fill="#0066bb"/>
<ellipse cx="3455" cy="2284" rx="15" ry="26" fill="#0066bb"/>

<text class="lt" x="661" y="2253">E</text>
<text class="lt" x="1267" y="2253">C</text>
<text class="lt" x="1905" y="2253">I</text>
<text class="lt" x="2577" y="2253">S</text>
<text class="lt" x="3249" y="2253">E</text>
<text class="sl" x="560" y="2151" textLength="240" lengthAdjust="spacingAndGlyphs">Externalisation</text>
<text class="sl" x="1166" y="2151" textLength="204" lengthAdjust="spacingAndGlyphs">Combination</text>
<text class="sl" x="1790" y="2151" textLength="232" lengthAdjust="spacingAndGlyphs">Internalization</text>
<text class="sl" x="2481" y="2151" textLength="201" lengthAdjust="spacingAndGlyphs">Socialization</text>
<text class="sl" x="3157" y="2146" textLength="191" lengthAdjust="spacingAndGlyphs">Effectuating</text>
</g>

<!-- SECI knowledge pills -->
<g id="collective-explicit">
<rect x="834" y="2100" width="263" height="73" rx="40" ry="28" fill="url(#rg-rd)" stroke="#ff0040" stroke-width="8"/>
<text class="pt" x="845" y="2132" textLength="240" lengthAdjust="spacingAndGlyphs">Collective Explicit</text>
<text class="pt" x="891" y="2156" textLength="149" lengthAdjust="spacingAndGlyphs">Knowledge</text>
</g>
<g id="individual-explicit">
<rect x="1473" y="2100" width="266" height="73" rx="40" ry="28" fill="url(#rg-or)" stroke="#ff9900" stroke-width="8"/>
<text class="pt" x="1485" y="2132" textLength="242" lengthAdjust="spacingAndGlyphs">Individual Explicit</text>
<text class="pt" x="1532" y="2156" textLength="149" lengthAdjust="spacingAndGlyphs">Knowledge</text>
</g>
<g id="individual-tacit">
<rect x="2143" y="2100" width="268" height="73" rx="40" ry="28" fill="url(#rg-yg)" stroke="#7cc800" stroke-width="8"/>
<text class="pt" x="2172" y="2132" textLength="210" lengthAdjust="spacingAndGlyphs">Individual Tacit</text>
<text class="pt" x="2203" y="2156" textLength="149" lengthAdjust="spacingAndGlyphs">Knowledge</text>
</g>
<g id="collective-tacit">
<rect x="2750" y="2100" width="269" height="73" rx="40" ry="28" fill="url(#rg-tl)" stroke="#00aaa0" stroke-width="8"/>
<text class="pt" x="2779" y="2132" textLength="210" lengthAdjust="spacingAndGlyphs">Collective Tacit</text>
<text class="pt" x="2810" y="2156" textLength="149" lengthAdjust="spacingAndGlyphs">Knowledge</text>
</g>
<g id="knowledge-evolution">
<rect x="3422" y="2093" width="268" height="75" rx="40" ry="28" fill="url(#rg-in)" stroke="#333399" stroke-width="8"/>
<text class="pt" x="3479" y="2125" textLength="154" lengthAdjust="spacingAndGlyphs">Knowledge</text>
<text class="pt" x="3490" y="2149" textLength="131" lengthAdjust="spacingAndGlyphs">Evolution</text>
</g>

<!-- SICEE pills -->
<g id="encompassing-space">
<rect x="530" y="2314" width="264" height="107" rx="50" ry="32" fill="#fff" stroke="#ff0080" stroke-width="8"/>
<text class="pb" x="537" y="2357" textLength="251" lengthAdjust="spacingAndGlyphs">Encompassing</text>
<text class="pb" x="608" y="2396" textLength="109" lengthAdjust="spacingAndGlyphs">Space</text>
</g>
<g id="ohomer-repository">
<rect x="834" y="2314" width="263" height="107" rx="50" ry="32" fill="url(#rg-rd)" stroke="#ff0040" stroke-width="8"/>
<text class="pb" x="885" y="2357" textLength="161" lengthAdjust="spacingAndGlyphs">OHOMER</text>
<text class="pb" x="875" y="2396" textLength="183" lengthAdjust="spacingAndGlyphs">Repository</text>
</g>
<g id="collating-space">
<rect x="1136" y="2314" width="264" height="107" rx="50" ry="32" fill="#fff" stroke="#ff0000" stroke-width="8"/>
<text class="pb" x="1194" y="2357" textLength="158" lengthAdjust="spacingAndGlyphs">Collating</text>
<text class="pb" x="1214" y="2396" textLength="109" lengthAdjust="spacingAndGlyphs">Space</text>
</g>
<g id="pkms-devices">
<rect x="1473" y="2314" width="266" height="107" rx="50" ry="32" fill="url(#rg-or)" stroke="#ff9900" stroke-width="8"/>
<text class="pb" x="1485" y="2375" textLength="242" lengthAdjust="spacingAndGlyphs">PKMS Devices</text>
</g>
<g id="imbedding-space">
<rect x="1776" y="2314" width="265" height="107" rx="50" ry="32" fill="#fff" stroke="#ffff00" stroke-width="8"/>
<text class="pb" x="1808" y="2357" textLength="200" lengthAdjust="spacingAndGlyphs">Imbedding</text>
<text class="pb" x="1854" y="2396" textLength="109" lengthAdjust="spacingAndGlyphs">Space</text>
</g>
<g id="pkms-user">
<rect x="2143" y="2314" width="268" height="107" rx="50" ry="32" fill="url(#rg-yg)" stroke="#7cc800" stroke-width="8"/>
<text class="pb" x="2182" y="2375" textLength="195" lengthAdjust="spacingAndGlyphs">PKMS User</text>
</g>
<g id="scholarly-space">
<rect x="2448" y="2314" width="265" height="107" rx="50" ry="32" fill="#fff" stroke="#00a040" stroke-width="8"/>
<text class="pb" x="2501" y="2357" textLength="163" lengthAdjust="spacingAndGlyphs">Scholarly</text>
<text class="pb" x="2526" y="2396" textLength="109" lengthAdjust="spacingAndGlyphs">Space</text>
</g>
<g id="pkms-community">
<rect x="2750" y="2314" width="269" height="107" rx="50" ry="32" fill="url(#rg-tl)" stroke="#00aaa0" stroke-width="8"/>
<text class="pb" x="2836" y="2357" textLength="97" lengthAdjust="spacingAndGlyphs">PKMS</text>
<text class="pb" x="2787" y="2396" textLength="195" lengthAdjust="spacingAndGlyphs">Community</text>
</g>
<g id="effectuating-space">
<rect x="3120" y="2314" width="265" height="107" rx="50" ry="32" fill="#fff" stroke="#0070c0" stroke-width="8"/>
<text class="pb" x="3159" y="2357" textLength="189" lengthAdjust="spacingAndGlyphs">Effectuating</text>
<text class="pb" x="3198" y="2396" textLength="109" lengthAdjust="spacingAndGlyphs">Space</text>
</g>
<g id="whomer-repository">
<rect x="3422" y="2314" width="268" height="107" rx="50" ry="32" fill="url(#rg-in)" stroke="#333399" stroke-width="8"/>
<text class="pb" x="3475" y="2357" textLength="163" lengthAdjust="spacingAndGlyphs">WHOMER</text>
<text class="pb" x="3465" y="2396" textLength="182" lengthAdjust="spacingAndGlyphs">Repository</text>
</g>

<g id="legend">
<text class="lg" x="69" y="2524" textLength="3587" lengthAdjust="spacingAndGlyphs">Legend:  KM – Knowledge Management, KMS – KM System, OKM – Organizational KM, PKM – Personal KM,  PKMS – PKM System, SME – Small &amp; Medium Enterprises</text>
</g>
</svg>
